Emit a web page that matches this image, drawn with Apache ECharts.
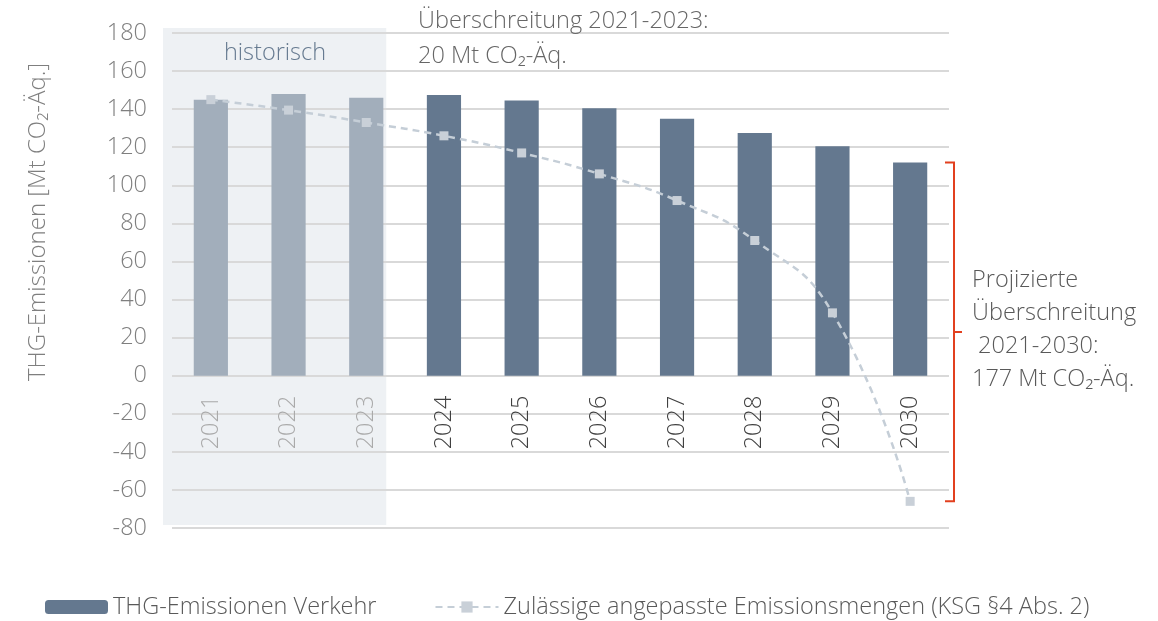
<!DOCTYPE html>
<html lang="de">
<head>
    <meta charset="UTF-8"/>
    <title>THG-Emissionen Verkehr</title>
    <style>
        html, body {margin: 0; padding: 0; background: #fff;}
        #chart {width: 1158px; height: 621px;}
    </style>
</head>
<body>
<div id="chart"></div>
<script type="text/javascript" src="https://cdn.jsdelivr.net/npm/echarts@6/dist/echarts.min.js"></script>
<script type="text/javascript">
    var years = ["2021", "2022", "2023", "2024", "2025", "2026", "2027", "2028", "2029", "2030"];
    var emissions = [145, 148, 146, 147.5, 144.5, 140.5, 135, 127.5, 120.5, 112];
    var allowed = [145, 139.5, 133, 126, 117, 106, 92, 71, 33, -66];
    var historicCount = 3;
    var yTicks = {min: -80, max: 180, step: 20};

    var font = "'Open Sans', 'Noto Sans', sans-serif";
    var fs = 23.5;
    var colHist = "#a2aebb", colProj = "#64788f";

    var chart = echarts.init(document.getElementById("chart"));

    var barData = emissions.map(function (v, i) {
        return i < historicCount ? {value: v, itemStyle: {color: colHist}} : v;
    });

    chart.setOption({
        animation: false,
        textStyle: {fontFamily: font, fontWeight: 300},
        grid: {left: 172, right: 209, top: 33, bottom: 93},
        legend: {
            left: 40,
            top: 590,
            itemWidth: 63,
            itemHeight: 14,
            itemGap: 58,
            textStyle: {fontFamily: font, fontWeight: 300, fontSize: fs, color: "#595959"},
            data: ["THG-Emissionen Verkehr", "Zulässige angepasste Emissionsmengen (KSG §4 Abs. 2)"]
        },
        xAxis: {
            type: "category",
            data: years,
            z: 1,
            axisLine: {show: false},
            axisTick: {show: false},
            axisLabel: {
                rotate: 90,
                margin: 20,
                fontSize: fs,
                fontFamily: font,
                fontWeight: 300,
                color: function (val) {
                    return years.indexOf(val) < historicCount ? "#aaaaaa" : "#404040";
                }
            }
        },
        yAxis: {
            type: "value",
            min: yTicks.min,
            max: yTicks.max,
            interval: yTicks.step,
            z: 1,
            axisLine: {show: false},
            axisTick: {show: false},
            axisLabel: {fontSize: fs, fontFamily: font, fontWeight: 300, color: "#7f7f7f", margin: 25},
            splitLine: {lineStyle: {color: "#d9d9d9", width: 2}}
        },
        series: [
            {
                name: "THG-Emissionen Verkehr",
                type: "bar",
                barWidth: "44%",
                itemStyle: {color: colProj},
                data: barData,
                z: 2
            },
            {
                name: "Zulässige angepasste Emissionsmengen (KSG §4 Abs. 2)",
                type: "line",
                smooth: 0.5,
                symbol: "rect",
                symbolSize: 9,
                itemStyle: {color: "#c9d0d8"},
                lineStyle: {color: "#c5ced7", width: 2.5, type: [7, 5]},
                data: allowed,
                z: 3
            }
        ]
    });

    // Hintergrund "historisch", Jahreszahlen an der Nulllinie, Klammer fuer 2030
    var yMaxPx = chart.convertToPixel({yAxisIndex: 0}, yTicks.max);
    var yMinPx = chart.convertToPixel({yAxisIndex: 0}, yTicks.min);
    var yZeroPx = chart.convertToPixel({yAxisIndex: 0}, 0);
    var histEnd = chart.convertToPixel({xAxisIndex: 0}, years[historicCount - 1]);
    var yBarTop = chart.convertToPixel({yAxisIndex: 0}, emissions[emissions.length - 1]);
    var yLineEnd = chart.convertToPixel({yAxisIndex: 0}, allowed[allowed.length - 1]);
    var yMid = (yBarTop + yLineEnd) / 2;
    var bx = 954;

    chart.setOption({
        xAxis: {offset: yZeroPx - yMinPx},
        graphic: [
            {
                type: "rect", zlevel: -1, z: 0, silent: true,
                shape: {x: 163, y: yMaxPx - 5, width: histEnd + 20 - 163, height: yMinPx - yMaxPx + 2},
                style: {fill: "#eef1f4"}
            },
            {
                type: "text", z: 10,
                style: {text: "historisch", x: 275, y: 53, align: "center", verticalAlign: "middle",
                    font: "300 " + fs + "px " + font, fill: "#667a90"}
            },
            {
                type: "text", z: 10,
                style: {text: "Überschreitung 2021-2023:\n20 Mt CO₂-Äq.", x: 418, y: 4, lineHeight: 35,
                    font: "300 " + fs + "px " + font, fill: "#666666"}
            },
            {
                type: "text", z: 10,
                style: {text: "THG-Emissionen [Mt CO₂-Äq.]", x: 0, y: 0, align: "center", verticalAlign: "middle",
                    font: "300 24px " + font, fill: "#7f7f7f"},
                x: 38, y: 222, rotation: Math.PI / 2
            },
            {
                type: "polyline", z: 10,
                shape: {points: [[bx - 9, yBarTop], [bx, yBarTop], [bx, yMid], [bx + 8, yMid], [bx, yMid], [bx, yLineEnd], [bx - 9, yLineEnd]]},
                style: {stroke: "#e2401f", lineWidth: 2, fill: null}
            },
            {
                type: "text", z: 10,
                style: {text: "Projizierte\nÜberschreitung\n 2021-2030:\n177 Mt CO₂-Äq.", x: 972, y: 264, lineHeight: 33,
                    font: "300 " + fs + "px " + font, fill: "#595959"}
            }
        ]
    });
</script>
</body>
</html>
